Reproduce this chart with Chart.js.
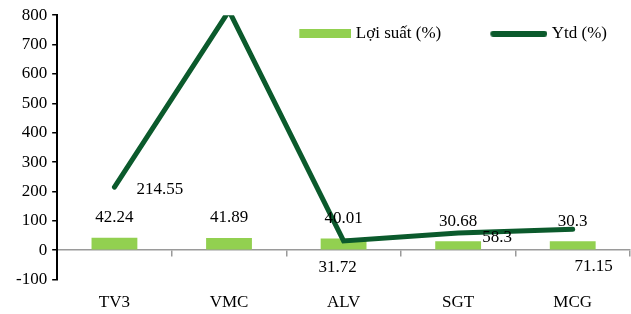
<!DOCTYPE html>
<html lang="vi">
  <head>
    <meta charset="UTF-8" />
    <title>Lợi suất và Ytd</title>
    <script src="https://cdn.jsdelivr.net/npm/chart.js@4.4.1/dist/chart.umd.min.js"></script>
    <style>
      body { margin: 0; background: #fff; }
      .chart-box { width: 631px; height: 314px; }
    </style>
  </head>
  <body>
    <div class="chart-box">
      <canvas id="myChart"></canvas>
    </div>

    <script>
      // data
      const categories = ["TV3", "VMC", "ALV", "SGT", "MCG"];
      const loiSuat = [42.24, 41.89, 40.01, 30.68, 30.3];
      const ytd = [214.55, 815, 31.72, 58.3, 71.15];
      const yMin = -100;
      const yMax = 800;
      const yStep = 100;

      const seriesNames = ["Lợi suất (%)", "Ytd (%)"];

      // style
      const barColor = "#92d050";
      const lineColor = "#0b5a2c";
      const fontFamily = "'Liberation Serif', 'Times New Roman', serif";
      const fontSize = 17;

      // where the Ytd labels sit next to their point: [dx, dy, align]
      const ytdLabelPlace = [
        [22, 2, "left"],
        [0, 0, "center"],
        [-6, 27, "center"],
        [24, 4, "left"],
        [21, 37, "center"],
      ];

      // legend markers drawn as small images
      function legendMarker(w, h, visW, isLine) {
        const c = document.createElement("canvas");
        c.width = w;
        c.height = h;
        const g = c.getContext("2d");
        if (isLine) {
          g.strokeStyle = lineColor;
          g.lineWidth = h;
          g.lineCap = "round";
          g.beginPath();
          g.moveTo(w - visW + h / 2, h / 2);
          g.lineTo(w - h / 2, h / 2);
          g.stroke();
        } else {
          g.fillStyle = barColor;
          g.fillRect(w - visW, 0, visW, h);
        }
        return c;
      }
      const markers = [legendMarker(100, 9, 52, false), legendMarker(100, 6, 57, true)];

      const valueLabels = {
        id: "valueLabels",
        afterDatasetsDraw(chart) {
          const ctx = chart.ctx;
          const area = chart.chartArea;
          ctx.save();
          ctx.font = fontSize + "px " + fontFamily;
          ctx.fillStyle = "#000";
          ctx.textBaseline = "middle";

          const barMeta = chart.getDatasetMeta(0);
          ctx.textAlign = "center";
          barMeta.data.forEach((el, i) => {
            ctx.fillText(String(loiSuat[i]), el.x, el.y - 20);
          });

          const lineMeta = chart.getDatasetMeta(1);
          lineMeta.data.forEach((el, i) => {
            if (el.y < area.top || el.y > area.bottom) return;
            const p = ytdLabelPlace[i];
            ctx.textAlign = p[2];
            ctx.fillText(String(ytd[i]), el.x + p[0], el.y + p[1]);
          });
          ctx.restore();
        },
      };

      // legend sits inside the plot, top right
      const legendInside = {
        id: "legendInside",
        afterLayout(chart) {
          const lg = chart.legend;
          const h = lg.bottom - lg.top;
          lg.top = chart.chartArea.top;
          lg.bottom = lg.top + h;
          lg.right = chart.chartArea.right - 13;
        },
      };

      const ctx = document.getElementById("myChart").getContext("2d");

      const config = {
        type: "bar",
        data: {
          labels: categories,
          datasets: [
            {
              type: "bar",
              label: seriesNames[0],
              data: loiSuat,
              backgroundColor: barColor,
              barPercentage: 0.4,
              categoryPercentage: 1,
              xAxisID: "x",
              order: 1,
            },
            {
              type: "line",
              label: seriesNames[1],
              data: ytd,
              borderColor: lineColor,
              backgroundColor: lineColor,
              borderWidth: 5,
              borderCapStyle: "round",
              borderJoinStyle: "miter",
              pointRadius: 0,
              tension: 0,
              xAxisID: "x",
              order: 0,
            },
          ],
        },
        options: {
          responsive: true,
          maintainAspectRatio: false,
          animation: false,
          layout: {
            padding: { top: -27, right: 1, left: 11, bottom: -12 },
          },
          plugins: {
            tooltip: { enabled: false },
            legend: {
              position: "top",
              align: "end",
              labels: {
                usePointStyle: true,
                pointStyleWidth: 92,
                padding: 10,
                color: "#000",
                font: { family: fontFamily, size: fontSize },
                generateLabels(chart) {
                  const items = Chart.defaults.plugins.legend.labels.generateLabels(chart);
                  items.sort((a, b) => a.datasetIndex - b.datasetIndex);
                  items.forEach((it) => {
                    it.pointStyle = markers[it.datasetIndex];
                    it.lineWidth = 0;
                  });
                  return items;
                },
              },
            },
          },
          scales: {
            x: {
              type: "category",
              position: "bottom",
              offset: true,
              grid: { display: false, drawTicks: false },
              border: { display: false },
              ticks: {
                color: "#000",
                padding: 13,
                font: { family: fontFamily, size: fontSize },
              },
            },
            xZero: {
              type: "category",
              labels: categories,
              position: { y: 0 },
              offset: true,
              grid: {
                display: true,
                drawOnChartArea: false,
                drawTicks: true,
                tickLength: 6,
                color: "#9a9a9a",
                lineWidth: 1.5,
              },
              border: { color: "#9a9a9a", width: 1.5 },
              ticks: { display: false },
            },
            y: {
              min: yMin,
              max: yMax,
              grid: {
                display: true,
                drawOnChartArea: false,
                drawTicks: true,
                tickLength: 5,
                color: "#000",
                lineWidth: 1.5,
              },
              border: { color: "#000", width: 2 },
              ticks: {
                stepSize: yStep,
                color: "#000",
                padding: 5,
                font: { family: fontFamily, size: fontSize },
              },
            },
          },
        },
        plugins: [valueLabels, legendInside],
      };

      const myChart = new Chart(ctx, config);
    </script>
  </body>
</html>
